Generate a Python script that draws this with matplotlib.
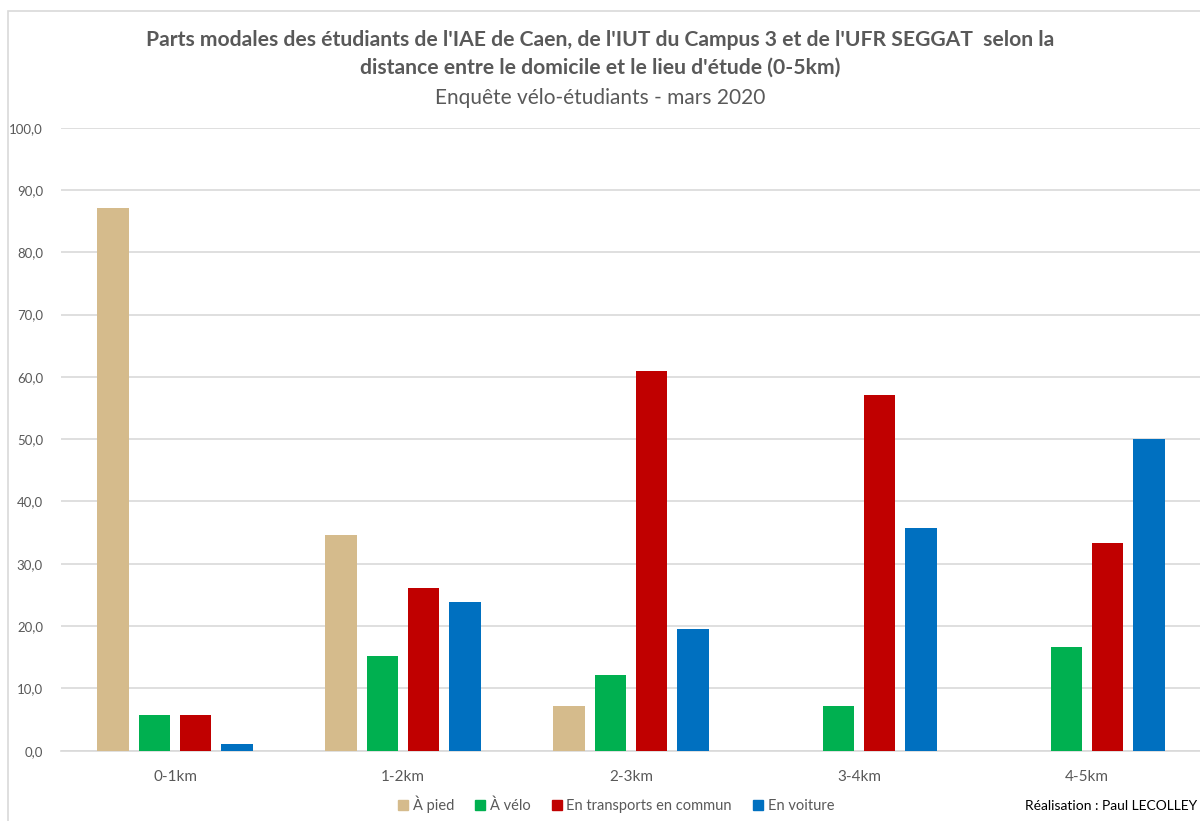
import matplotlib
matplotlib.use("Agg")
import matplotlib.pyplot as plt
import numpy as np
from matplotlib.patches import Rectangle
from matplotlib.lines import Line2D
from matplotlib.ticker import FuncFormatter, MultipleLocator

plt.rcParams['font.family'] = ['Lato', 'DejaVu Sans']

# data
categories = ["0-1km", "1-2km", "2-3km", "3-4km", "4-5km"]
modes = ["À pied", "À vélo", "En transports en commun", "En voiture"]
a_pied = [87.1, 34.6, 7.2, 0.0, 0.0]
a_velo = [5.8, 15.2, 12.2, 7.1, 16.7]
transports = [5.8, 26.1, 61.0, 57.1, 33.3]
voiture = [1.1, 23.9, 19.5, 35.7, 50.0]
series = [a_pied, a_velo, transports, voiture]
colors = ["#D5BB8C", "#00B050", "#C00000", "#0070C0"]

GRAY = "#595959"

fig = plt.figure(figsize=(12, 8.21), dpi=100)
ax = fig.add_axes([61 / 1200, 70.3 / 821, 1140 / 1200, 623 / 821])

x = np.arange(len(categories))
pitch = 0.18
width = 0.14
for i, (vals, col) in enumerate(zip(series, colors)):
    ax.bar(x + (i - 1.5) * pitch, vals, width=width, color=col, zorder=3)

ax.set_xlim(-0.5, len(categories) - 0.5)
ax.set_ylim(0, 100)
ax.yaxis.set_major_locator(MultipleLocator(10))
ax.yaxis.set_major_formatter(FuncFormatter(lambda v, p: f"{v:.1f}".replace(".", ",")))
ax.grid(axis="y", color="#D9D9D9", lw=1.2, zorder=0)
ax.set_xticks(x)
ax.set_xticklabels(categories)
ax.tick_params(axis="both", length=0, colors=GRAY)
ax.tick_params(axis="x", pad=14, labelsize=11)
ax.tick_params(axis="y", pad=13, labelsize=9.5)
for s in ["top", "right", "left"]:
    ax.spines[s].set_visible(False)
ax.spines["bottom"].set_color("#D9D9D9")
ax.spines["bottom"].set_linewidth(1.2)

# chart border
fig.patches.append(Rectangle((8 / 1200, -0.05), 1.2, 1 - 11 / 821 + 0.05,
                             transform=fig.transFigure, fill=False,
                             ec="#D9D9D9", lw=1.2))

fig.text(0.5, 1 - 40 / 821,
         "Parts modales des étudiants de l'IAE de Caen, de l'IUT du Campus 3 et de l'UFR SEGGAT  selon la",
         ha="center", va="center", fontsize=15.2, fontweight="bold", color=GRAY)
fig.text(0.5, 1 - 68 / 821, "distance entre le domicile et le lieu d'étude (0-5km)",
         ha="center", va="center", fontsize=15.2, fontweight="bold", color=GRAY)
fig.text(0.5, 1 - 98 / 821, "Enquête vélo-étudiants - mars 2020",
         ha="center", va="center", fontsize=15, color=GRAY)

handles = [Line2D([], [], marker="s", ls="", color=c, markersize=7.5) for c in colors]
fig.legend(handles, modes, loc="center", bbox_to_anchor=(615 / 1200, 1 - 804 / 821),
           ncol=4, frameon=False, fontsize=10.5, labelcolor=GRAY,
           handletextpad=0.15, columnspacing=1.3, handlelength=1.0)

fig.text(1025 / 1200, 1 - 806 / 821, "Réalisation : Paul LECOLLEY",
         ha="left", va="center", fontsize=10, color="black")

fig.savefig("out.png", dpi=100)
